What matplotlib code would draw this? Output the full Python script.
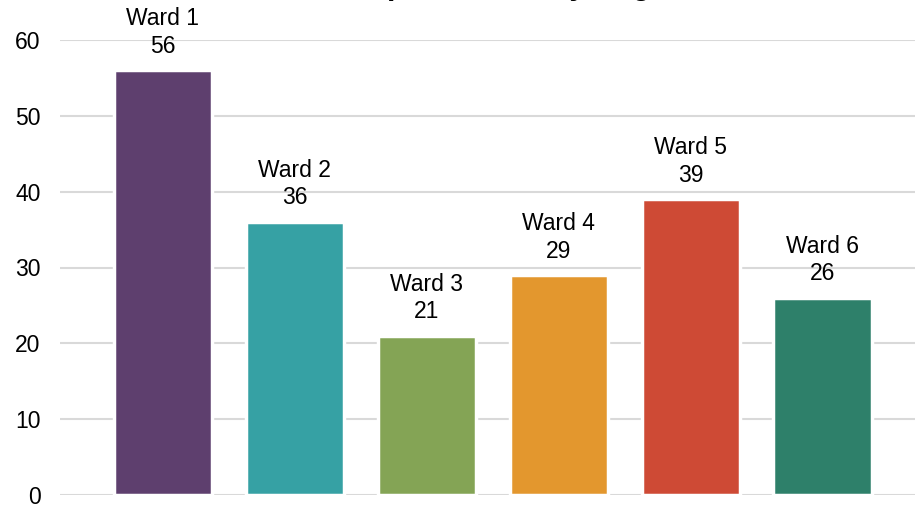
import matplotlib.pyplot as plt

plt.rcParams['font.family'] = ['Liberation Sans', 'DejaVu Sans']

wards = ['Ward 1', 'Ward 2', 'Ward 3', 'Ward 4', 'Ward 5', 'Ward 6']
values = [56, 36, 21, 29, 39, 26]
colors = ['#5E3F6E', '#36A1A4', '#84A455', '#E3972E', '#CE4A35', '#2E806A']
yticks = [0, 10, 20, 30, 40, 50, 60]

fig = plt.figure(figsize=(9.15, 5.07), dpi=100)
ax = fig.add_axes([60 / 915, 12 / 507, 855 / 915, 455 / 507])

x = list(range(len(wards)))
ax.bar(x, values, width=0.745, color=colors, edgecolor='white', linewidth=2.5, zorder=3)

for i, v in enumerate(values):
    ax.annotate(f'{wards[i]}\n{v}', (i, v), xytext=(0, 9), textcoords='offset points',
                ha='center', va='bottom', fontsize=16.5, linespacing=1.25,
                annotation_clip=False)

ax.set_ylim(0, 60)
ax.set_xlim(-0.78, 5.7)
ax.set_yticks(yticks)
ax.set_xticks([])
ax.tick_params(axis='y', length=0, labelsize=16.5, pad=14)
ax.grid(axis='y', color='#d9d9d9', linewidth=1.5, zorder=0)
for s in ax.spines.values():
    s.set_visible(False)

fig.text(465 / 915, 1 + 6 / 507, 'Patients per Ward as you go', ha='center', va='baseline',
         fontsize=22, fontweight='bold')

fig.savefig('out.png', dpi=100)
